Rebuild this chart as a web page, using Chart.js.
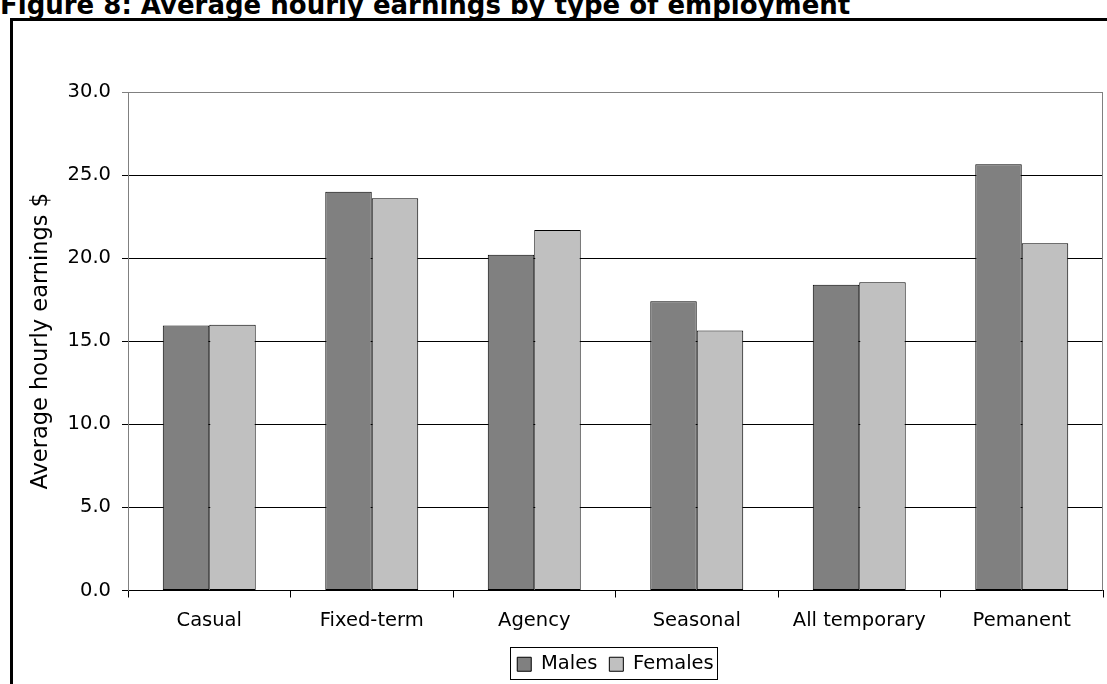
<!DOCTYPE html>
<html>
<head>
<meta charset="utf-8">
<script src="https://cdn.jsdelivr.net/npm/chart.js@4.4.1/dist/chart.umd.min.js"></script>
<style>
  html, body { margin: 0; padding: 0; background: #fff; overflow: hidden; }
  #wrap { position: relative; width: 1107px; height: 684px; }
  #title {
    position: absolute; left: 0; top: -8px; white-space: nowrap;
    font: bold 26px "DejaVu Sans"; line-height: 26px; color: #000;
  }
  #frame {
    position: absolute; left: 10px; top: 18px; width: 1200px; height: 800px;
    border-left: 3px solid #000; border-top: 3px solid #000; pointer-events: none;
  }
  #box { position: absolute; left: 0; top: 0; width: 1107px; height: 684px; }
</style>
</head>
<body>
<div id="wrap">
  <div id="title">Figure 8: Average hourly earnings by type of employment</div>
  <div id="frame"></div>
  <div id="box"><canvas id="myChart"></canvas></div>
</div>
<script>
var categories = ["Casual", "Fixed-term", "Agency", "Seasonal", "All temporary", "Pemanent"];
var males = [15.95, 24.0, 20.2, 17.4, 18.4, 25.65];
var females = [16.0, 23.6, 21.7, 15.65, 18.55, 20.9];
var yTicks = [0, 5, 10, 15, 20, 25, 30];

var font = "DejaVu Sans";

// box round the legend and the right edge of the plot area
var framePlugin = {
  id: "frames",
  beforeDatasetsDraw: function (chart) {
    var a = chart.chartArea, c = chart.ctx;
    c.save();
    c.strokeStyle = "#808080";
    c.lineWidth = 1;
    c.beginPath();
    c.moveTo(Math.round(a.right) - 0.5, a.top);
    c.lineTo(Math.round(a.right) - 0.5, a.bottom);
    c.stroke();
    c.restore();
  },
  afterDraw: function (chart) {
    var hb = chart.legend.legendHitBoxes;
    if (!hb || !hb.length) return;
    var c = chart.ctx;
    var last = hb[hb.length - 1];
    var cy = hb[0].top + hb[0].height / 2;
    var l = Math.round(hb[0].left - 7) + 0.5;
    var r = Math.round(last.left + last.width + 3) + 0.5;
    var t = Math.round(cy - 17) + 0.5;
    var b = Math.round(cy + 15) + 0.5;
    c.save();
    c.strokeStyle = "#000";
    c.lineWidth = 1;
    c.strokeRect(l, t, r - l, b - t);
    c.restore();
  }
};

var ctx = document.getElementById("myChart");
var myChart = new Chart(ctx, {
  type: "bar",
  data: {
    labels: categories,
    datasets: [
      {
        label: "Males",
        data: males,
        backgroundColor: "#808080",
        borderColor: "#000",
        borderWidth: 1,
        borderSkipped: false,
      },
      {
        label: "Females",
        data: females,
        backgroundColor: "#c0c0c0",
        borderColor: "#000",
        borderWidth: 1,
        borderSkipped: false,
      },
    ],
  },
  options: {
    responsive: true,
    maintainAspectRatio: false,
    animation: false,
    datasets: {
      bar: { categoryPercentage: 0.572, barPercentage: 1.0 },
    },
    layout: { padding: { top: 92, right: 4, left: 0, bottom: 0 } },
    scales: {
      x: {
        grid: {
          offset: true,
          drawOnChartArea: false,
          tickLength: 7,
          color: "#000",
        },
        border: { color: "#000", width: 1 },
        ticks: {
          color: "#000",
          padding: 12,
          maxRotation: 0,
          font: { family: font, size: 19.5 },
        },
        afterFit: function (s) { s.height = 52; },
      },
      y: {
        min: 0,
        max: 30,
        afterBuildTicks: function (s) {
          s.ticks = yTicks.map(function (v) { return { value: v }; });
        },
        grid: {
          tickLength: 6,
          color: function (c) { return c.tick && c.tick.value === 30 ? "#808080" : "#000"; },
        },
        border: { color: "#808080", width: 1 },
        ticks: {
          color: "#000",
          padding: 11,
          font: { family: font, size: 19.5 },
          callback: function (v) { return Number(v).toFixed(1); },
        },
        title: {
          display: true,
          text: "Average hourly earnings $",
          color: "#000",
          font: { family: font, size: 22.5 },
          padding: { top: 28, bottom: 0 },
        },
        afterFit: function (s) { s.width = 128; },
      },
    },
    plugins: {
      legend: {
        position: "bottom",
        fullSize: false,
        labels: {
          color: "#000",
          boxWidth: 14,
          boxHeight: 14,
          padding: 12,
          font: { family: font, size: 19.5 },
        },
      },
      tooltip: { enabled: false },
    },
  },
  plugins: [framePlugin],
});
</script>
</body>
</html>
